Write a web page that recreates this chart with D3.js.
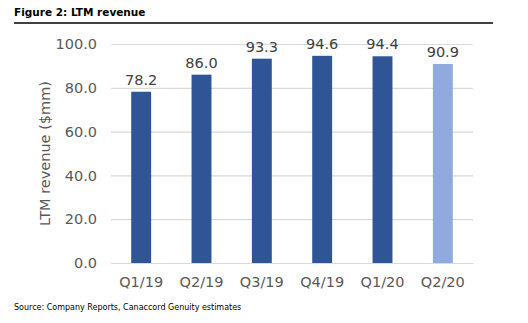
<!DOCTYPE html>
<html>
<head>
<meta charset="utf-8">
<script src="https://cdn.jsdelivr.net/npm/d3@7"></script>
<style>
  body { margin: 0; background: #fff; }
  svg text { font-family: "DejaVu Sans", Verdana, sans-serif; }
</style>
</head>
<body>
<div id="chart"></div>
<script>
const quarters = ['Q1/19', 'Q2/19', 'Q3/19', 'Q4/19', 'Q1/20', 'Q2/20'];
const revenue = [78.2, 86.0, 93.3, 94.6, 94.4, 90.9];
const estimated = [false, false, false, false, false, true];
const yTicks = [0, 20, 40, 60, 80, 100];

const width = 528, height = 323;
const margin = { top: 44, bottom: 60, left: 111, right: 55 };
const innerW = width - margin.left - margin.right;
const innerH = height - margin.top - margin.bottom;

const data = quarters.map((q, i) => ({ q: q, v: revenue[i], est: estimated[i] }));

const x = d3.scaleBand().domain(quarters).range([0, innerW]).paddingInner(0.67).paddingOuter(0.335);
const y = d3.scaleLinear().domain([0, 100]).range([innerH, 0]);

const svg = d3.select('#chart').append('svg')
    .attr('width', width)
    .attr('height', height);

// heading and rule
svg.append('text')
    .attr('x', 14).attr('y', 16)
    .attr('font-size', 10.5).attr('font-weight', 'bold').attr('fill', '#000')
    .text('Figure 2: LTM revenue');
svg.append('line')
    .attr('x1', 14).attr('x2', 493).attr('y1', 23).attr('y2', 23)
    .attr('stroke', '#000').attr('stroke-width', 1.5);

const g = svg.append('g').attr('transform', `translate(${margin.left},${margin.top})`);

// gridlines + y labels
const yAxis = g.append('g')
    .call(d3.axisLeft(y).tickValues(yTicks).tickSize(-innerW).tickFormat(d3.format('.1f')));
yAxis.select('.domain').remove();
yAxis.selectAll('.tick line').attr('stroke', '#d9d9d9').attr('stroke-width', 1.2);
yAxis.selectAll('.tick text')
    .attr('x', -14).attr('font-size', 14.5).attr('fill', '#595959')
    .style('font-family', '"DejaVu Sans", Verdana, sans-serif');

// bars
g.selectAll('.bar')
    .data(data)
    .enter().append('rect')
    .attr('class', 'bar')
    .attr('x', d => x(d.q))
    .attr('y', d => y(d.v))
    .attr('width', x.bandwidth())
    .attr('height', d => innerH - y(d.v))
    .attr('fill', d => d.est ? '#8faadc' : '#2f5597');

// value labels
g.selectAll('.val')
    .data(data)
    .enter().append('text')
    .attr('class', 'val')
    .attr('x', d => x(d.q) + x.bandwidth() / 2)
    .attr('y', d => y(d.v) - 7)
    .attr('text-anchor', 'middle')
    .attr('font-size', 14.5).attr('fill', '#404040')
    .text(d => d.v.toFixed(1));

// x axis
const xAxis = g.append('g')
    .attr('transform', `translate(0,${innerH})`)
    .call(d3.axisBottom(x).tickSize(0).tickPadding(14));
xAxis.select('.domain').attr('stroke', '#d9d9d9').attr('stroke-width', 1.2);
xAxis.selectAll('.tick text')
    .attr('font-size', 14.5).attr('fill', '#595959')
    .style('font-family', '"DejaVu Sans", Verdana, sans-serif');

// y axis title
svg.append('text')
    .attr('transform', `translate(50,${margin.top + innerH / 2}) rotate(-90)`)
    .attr('text-anchor', 'middle')
    .attr('font-size', 14.5).attr('fill', '#595959')
    .text('LTM revenue ($mm)');

// source note
svg.append('text')
    .attr('x', 14).attr('y', 310)
    .attr('font-size', 8).attr('fill', '#000')
    .text('Source: Company Reports, Canaccord Genuity estimates');
</script>
</body>
</html>
